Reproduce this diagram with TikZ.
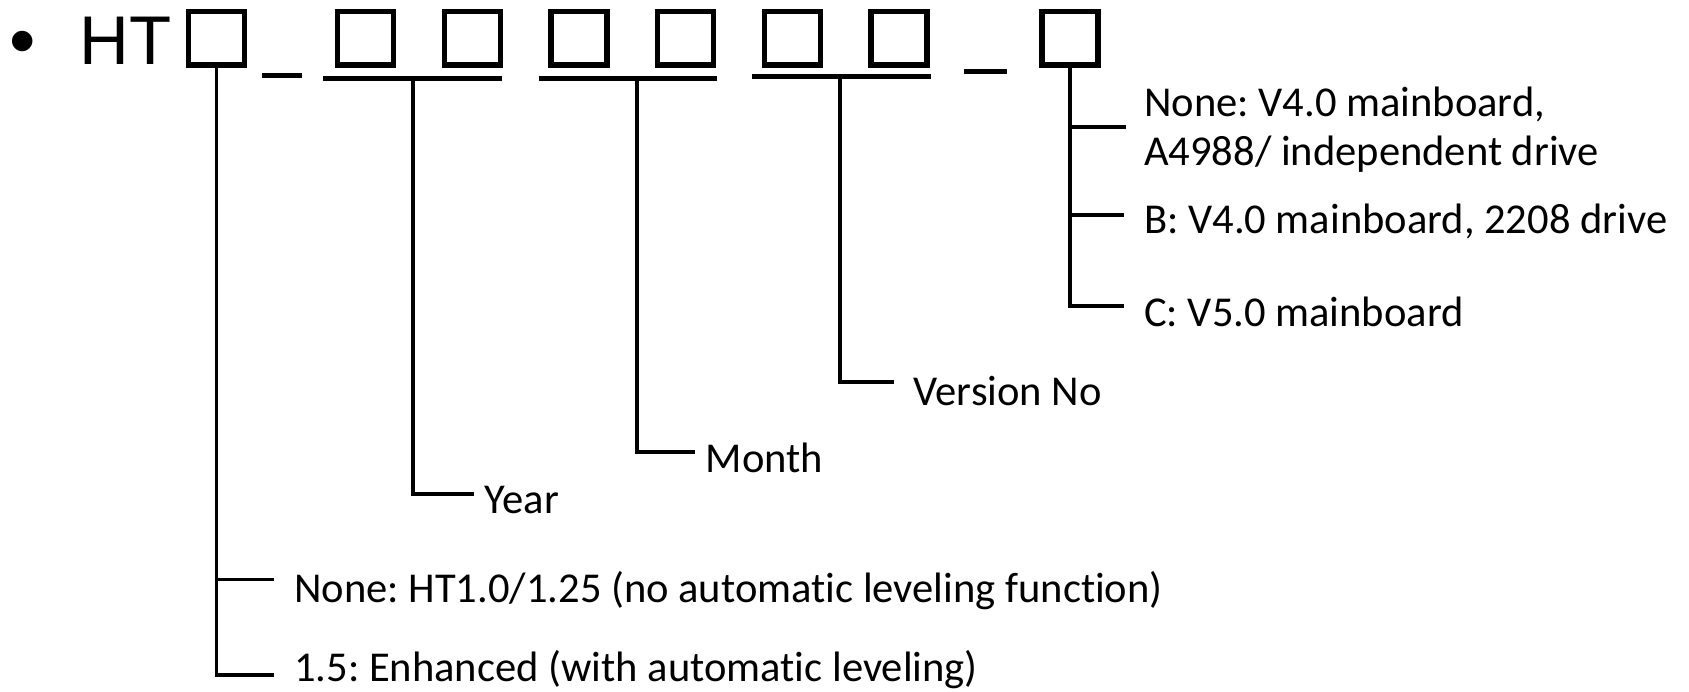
\documentclass[tikz,border=0pt]{standalone}
\usepackage{fontspec}
\setmainfont{Carlito}[Ligatures={NoCommon}]
\newfontfamily\arialf{Liberation Sans}
\begin{document}
\frenchspacing
\begin{tikzpicture}[x=1pt,y=-1pt,
  box/.style={draw,line width=5pt,minimum width=52pt,minimum height=50pt,inner sep=0pt},
  conn/.style={line width=3.6pt},
  bar/.style={line width=4.5pt},
  lbl/.style={anchor=base west,inner sep=0pt,font=\frenchspacing\fontsize{39.5}{47}\selectfont},
  big/.style={anchor=base west,inner sep=0pt,font=\arialf\fontsize{64}{70}\selectfont}]
\useasboundingbox (0,0) rectangle (1568,642);
% title line
\node[big,font=\arialf\fontsize{70}{76}\selectfont] (dot) at (9,62) {•};
\node[big] (ht) at (74,60) {HT};
\node[box] (b1) at (201,35.5) {};
\node[box] (b2) at (339.5,35.5) {};
\node[box] (b3) at (438.5,35.5) {};
\node[box] (b4) at (537.5,35.5) {};
\node[box] (b5) at (636.5,35.5) {};
\node[box] (b6) at (735.5,35.5) {};
\node[box] (b7) at (834.5,35.5) {};
\node[box] (b8) at (993.5,35.5) {};
% underscores and underlines
\coordinate (s1a) at (243,70); \coordinate (s1b) at (280,70);
\coordinate (s2a) at (895,66); \coordinate (s2b) at (935,66);
\draw[bar] (s1a) -- (s1b);
\draw[bar] (s2a) -- (s2b);
\coordinate (u1a) at (300,73); \coordinate (u1b) at (466,73); \coordinate (u1) at (383,73);
\coordinate (u2a) at (500,73); \coordinate (u2b) at (666,73); \coordinate (u2) at (591,73);
\coordinate (u3a) at (698,71); \coordinate (u3b) at (864,71); \coordinate (u3) at (780,71);
\draw[bar] (u1a) -- (u1b);
\draw[bar] (u2a) -- (u2b);
\draw[bar] (u3a) -- (u3b);
% labels
\node[lbl] (tnone) at (273,559) {None: HT1.0/1.25 (no automatic leveling function)};
\node[lbl] (tenh) at (273,633) {1.5: Enhanced (with automatic leveling)};
\node[lbl] (tyear) at (450,477) {Year};
\node[lbl] (tmonth) at (655,439) {Month};
\node[lbl] (tver) at (848,376) {Version No};
\node[lbl] (ta1) at (1062,108) {None: V4.0 mainboard,};
\node[lbl] (ta2) at (1062,154) {A4988/ independent drive};
\node[lbl] (tb) at (1062,217) {B: V4.0 mainboard, 2208 drive};
\node[lbl] (tc) at (1062,303) {C: V5.0 mainboard};
% branch ends
\coordinate (e1a) at (254,538);
\coordinate (e1b) at (254,627);
\coordinate (ey) at (440,459);
\coordinate (em) at (645,420);
\coordinate (ev) at (830,355);
\coordinate (e8a) at (1045,118);
\coordinate (e8b) at (1043,200);
\coordinate (e8c) at (1043,284);
% connectors
\draw[conn] (b1.south) |- (e1b);
\draw[conn] (b1.south |- e1a) -- (e1a);
\draw[conn] (u1) |- (ey);
\draw[conn] (u2) |- (em);
\draw[conn] (u3) |- (ev);
\draw[conn] (b8.south) |- (e8c);
\draw[conn] (b8.south |- e8a) -- (e8a);
\draw[conn] (b8.south |- e8b) -- (e8b);
\end{tikzpicture}
\end{document}
